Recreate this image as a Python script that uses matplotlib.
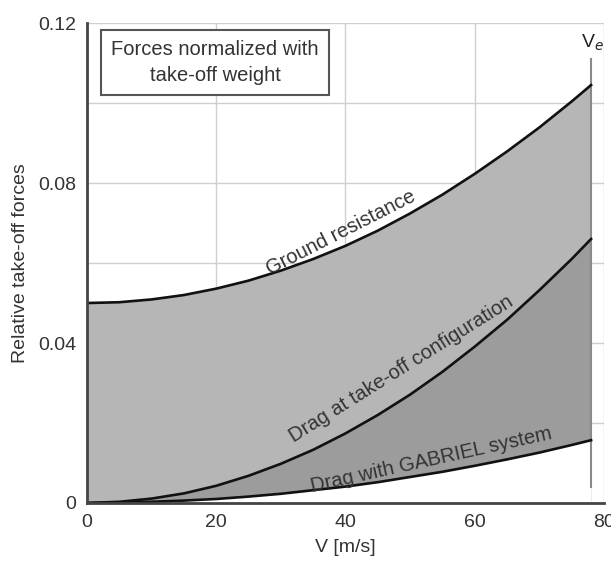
import numpy as np
import matplotlib
matplotlib.use("Agg")
import matplotlib.pyplot as plt

# Data (V in m/s, forces relative to take-off weight)
speed = [0, 5, 10, 15, 20, 25, 30, 35, 40, 45, 50, 55, 60, 65, 70, 75, 78]
ground_resistance = [0.0500, 0.0502, 0.0509, 0.0520, 0.0536, 0.0556, 0.0581, 0.0610,
                     0.0643, 0.0681, 0.0724, 0.0771, 0.0823, 0.0879, 0.0939, 0.1004, 0.1045]
drag_takeoff = [0.0000, 0.0003, 0.0011, 0.0024, 0.0043, 0.0068, 0.0098, 0.0133,
                0.0174, 0.0220, 0.0271, 0.0328, 0.0391, 0.0458, 0.0532, 0.0610, 0.0660]
drag_gabriel = [0.0000, 0.0001, 0.0003, 0.0006, 0.0010, 0.0016, 0.0023, 0.0032,
                0.0041, 0.0052, 0.0065, 0.0078, 0.0093, 0.0109, 0.0126, 0.0145, 0.0157]

x_ticks = [0, 20, 40, 60, 80]
x_ticklabels = ["0", "20", "40", "60", "80"]
y_ticks = [0, 0.04, 0.08, 0.12]
y_ticklabels = ["0", "0.04", "0.08", "0.12"]

plt.rcParams['font.family'] = ['Liberation Sans', 'DejaVu Sans']

fig = plt.figure(figsize=(6.11, 5.63), dpi=100)
ax = fig.add_axes([0.1424, 0.1066, 0.8461, 0.8524])

V = np.array(speed)
g = np.array(ground_resistance)
d = np.array(drag_takeoff)
gb = np.array(drag_gabriel)

light = "#b6b6b6"
dark = "#9c9c9c"
ax.fill_between(V, d, g, color=light, lw=0, zorder=1)
ax.fill_between(V, 0, d, color=light, lw=0, zorder=1)
ax.fill_between(V, gb, d, color=dark, lw=0, zorder=1.5)
ax.fill_between(V, 0, gb, color="white", lw=0, zorder=1.6)

ax.plot(V, g, color="#111111", lw=1.9, zorder=3)
ax.plot(V, d, color="#111111", lw=1.9, zorder=3)
ax.plot(V, gb, color="#111111", lw=1.9, zorder=3)

# V_e vertical marker
ax.plot([78, 78], [0.004, 0.111], color="#8a8a8a", lw=1.5, zorder=2.5)
ax.text(80.0, 0.1125, "V$_e$", ha="right", va="bottom", fontsize=14, color="#222222", zorder=4)

ax.set_xlim(0, 80)
ax.set_ylim(0, 0.12)
ax.set_xticks(x_ticks)
ax.set_xticklabels(x_ticklabels)
ax.set_yticks(np.arange(0, 0.1201, 0.02), minor=True)
ax.set_yticks(y_ticks)
ax.set_yticklabels(y_ticklabels)
ax.tick_params(axis="both", which="both", length=0, labelsize=14, colors="#333333", pad=8)
ax.grid(True, which="both", color="#cfcfcf", lw=1.0, zorder=0)
ax.set_axisbelow(True)

for s in ["top", "right"]:
    ax.spines[s].set_visible(False)
ax.spines["left"].set_color("#444444")
ax.spines["left"].set_linewidth(2.0)
ax.spines["bottom"].set_color("#444444")
ax.spines["bottom"].set_linewidth(2.0)
ax.spines["left"].set_zorder(5)
ax.spines["bottom"].set_zorder(5)

ax.set_xlabel("V [m/s]", fontsize=14, color="#333333", labelpad=6)
ax.set_ylabel("Relative take-off forces", fontsize=14, color="#333333", labelpad=6)

# Curve labels
ax.text(39.3, 0.0675, "Ground resistance", rotation=27, rotation_mode="anchor",
        ha="center", va="center", fontsize=14.5, color="#333333", zorder=4)
ax.text(48.6, 0.0335, "Drag at take-off configuration", rotation=32, rotation_mode="anchor",
        ha="center", va="center", fontsize=14.5, color="#333333", zorder=4)
ax.text(53.3, 0.0108, "Drag with GABRIEL system", rotation=12.5, rotation_mode="anchor",
        ha="center", va="center", fontsize=14.5, color="#333333", zorder=4)

# Box annotation
ax.text(19.8, 0.1101, "Forces normalized with\ntake-off weight", ha="center", va="center",
        fontsize=14.5, color="#333333", linespacing=1.45, zorder=4,
        bbox=dict(boxstyle="square,pad=0.5", fc="white", ec="#555555", lw=1.5))

fig.savefig("out.png", dpi=100)
